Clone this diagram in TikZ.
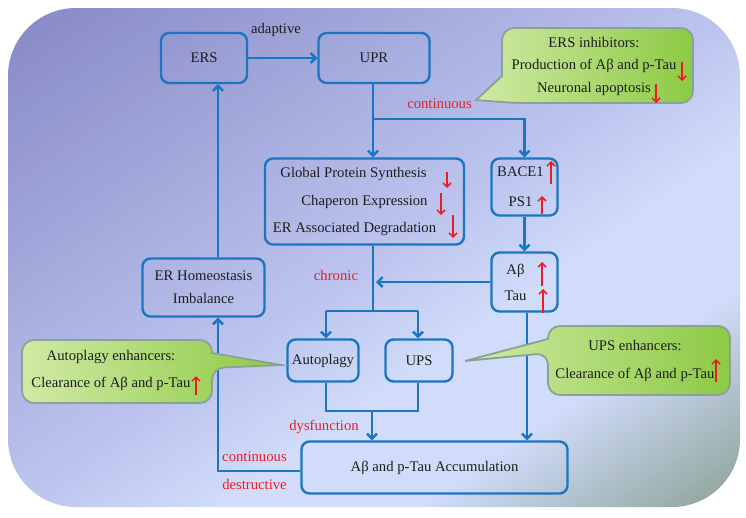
\documentclass[tikz,border=0pt]{standalone}
\usepackage{fontspec}
\setmainfont{Liberation Serif}
\usetikzlibrary{arrows.meta,calc}
\definecolor{boxblue}{RGB}{28,117,192}
\definecolor{redc}{RGB}{236,28,36}
\definecolor{cborder}{RGB}{138,162,148}
\definecolor{greenL}{RGB}{208,234,165}
\definecolor{greenR}{RGB}{140,202,68}
\definecolor{bgA}{RGB}{134,136,197}
\definecolor{bgB}{RGB}{188,196,238}
\definecolor{bgC}{RGB}{208,220,250}
\definecolor{bgD}{RGB}{140,160,148}
\definecolor{txt}{RGB}{30,30,30}
\pgfdeclarehorizontalshading{bgsh}{100bp}{color(0bp)=(bgA); color(25bp)=(bgA); color(50bp)=(bgB); color(57bp)=(bgC); color(64bp)=(bgC); color(75bp)=(bgD); color(100bp)=(bgD)}
\begin{document}
\begin{tikzpicture}[x=1pt,y=-1pt,
  box/.style={draw=boxblue, line width=2.4pt, rounded corners=8pt, inner sep=0pt, align=center, text=txt},
  conn/.style={draw=boxblue, line width=2.4pt},
  arr/.style={-{Straight Barb[length=5pt,width=10pt]}},
  redarr/.style={draw=redc, line width=1.5pt, -{Straight Barb[length=4pt,width=8pt]}},
  lbl/.style={text=redc, font=\fontsize{14.7}{17}\selectfont, inner sep=0pt},
  callout/.style={draw=cborder, line width=1.8pt, left color=greenL, right color=greenR},
  ctext/.style={text=txt, align=center, inner sep=0pt}
]
\useasboundingbox (0,0) rectangle (746,517);
\fill[white] (0,0) rectangle (746,517);
\begin{scope}
  \clip[rounded corners=68pt] (8,8) rectangle (740,507);
  \begin{scope}[transform canvas={rotate around={-55.6:(374,258)}}]
    \shade[shading=bgsh] (-38,-342) rectangle (786,858);
  \end{scope}
\end{scope}

% boxes
\node[box, minimum width=86pt, minimum height=50pt, font=\fontsize{14.7}{17}\selectfont] (ers) at (204,58) {ERS};
\node[box, minimum width=111pt, minimum height=50pt, font=\fontsize{14.7}{17}\selectfont] (upr) at (374,58) {UPR};
\node[box, minimum width=199pt, minimum height=86pt, font=\fontsize{14.7}{27.5}\selectfont] (glob) at (364.5,201.5)
  {Global Protein Synthesis\hspace*{22pt}\\Chaperon Expression\hspace*{22pt}\\ER Associated Degradation\hspace*{20pt}};
\node[box, minimum width=66pt, minimum height=57pt, font=\fontsize{14.7}{30}\selectfont] (bace) at (524.5,187)
  {BACE1\hspace*{8pt}\\PS1\hspace*{8pt}};
\node[box, minimum width=66pt, minimum height=59pt, font=\fontsize{14.7}{26}\selectfont] (ab) at (524.5,282)
  {Aβ\hspace*{18pt}\\Tau\hspace*{18pt}};
\node[box, minimum width=122pt, minimum height=58pt, font=\fontsize{14.7}{23}\selectfont] (erh) at (203.5,287.5)
  {ER Homeostasis\\Imbalance};
\node[box, minimum width=71pt, minimum height=42pt, font=\fontsize{14.7}{17}\selectfont] (auto) at (323,360.5) {Autoplagy};
\node[box, minimum width=67pt, minimum height=42pt, font=\fontsize{14.7}{17}\selectfont] (ups) at (419,360.5) {UPS};
\node[box, minimum width=266pt, minimum height=52pt, font=\fontsize{14.7}{17}\selectfont] (acc) at (434.5,467.5)
  {Aβ and p-Tau Accumulation};

% connectors
\coordinate (j1) at (373,119);
\draw[conn] (j1 |- upr.south) -- (j1);
\draw[conn,arr] (j1) -- (j1 |- glob.north);
\draw[conn,arr] (j1) -| (bace.north);
\draw[conn,arr] (ers) -- (upr);
\draw[conn,arr] (bace) -- (ab);
\coordinate (j2l) at (326,311);
\coordinate (j2) at (373,311);
\coordinate (j2r) at (418,311);
\coordinate (chr) at (376,282);
\draw[conn] (j2 |- glob.south) -- (j2);
\draw[conn,arr] (ab.west) -- (chr);
\draw[conn] (j2l) -- (j2r);
\draw[conn,arr] (j2l) -- (j2l |- auto.north);
\draw[conn,arr] (j2r) -- (j2r |- ups.north);
\coordinate (j3l) at (326,411);
\coordinate (j3) at (372,411);
\coordinate (j3r) at (418,411);
\draw[conn] (j3l |- auto.south) -- (j3l) -- (j3r) -- (j3r |- ups.south);
\draw[conn,arr] (j3) -- (j3 |- acc.north);
\coordinate (abx) at (527,300);
\draw[conn,arr] (abx |- ab.south) -- (abx |- acc.north);
\coordinate (j4) at (218,471);
\draw[conn,arr] (j4 -| acc.west) -- (j4) -- (j4 |- erh.south);
\draw[conn,arr] (j4 |- erh.north) -- (j4 |- ers.south);

% labels
\node[text=txt, font=\fontsize{14.7}{17}\selectfont, inner sep=0pt] (adap) at (276,30) {adaptive};
\node[lbl] (cont1) at (439.5,104) {continuous};
\node[lbl] (chron) at (336,275) {chronic};
\node[lbl] (dysf) at (324,427) {dysfunction};
\node[lbl] (cont2) at (254.5,457) {continuous};
\node[lbl] (destr) at (254.5,484) {destructive};

% red arrows in boxes
\draw[redarr] (447,172) -- (447,188);
\draw[redarr] (441,193) -- (441,215);
\draw[redarr] (453,215) -- (453,238);
\draw[redarr] (551,184) -- (551,161);
\draw[redarr] (542,214) -- (542,196);
\draw[redarr] (542,286) -- (542,262);
\draw[redarr] (543,313) -- (543,289);

% callouts
\path[callout] (502,76) [rounded corners=12pt] -- (502,28) -- (693,28) -- (693,103) -- (514,103) [sharp corners] -- (476,100) -- cycle;
\node[ctext, font=\fontsize{14.7}{22.5}\selectfont] (ersinh) at (594,66)
  {ERS inhibitors:\\Production of Aβ and p-Tau\\Neuronal apoptosis};
\draw[redarr] (682,62) -- (682,81);
\draw[redarr] (656,84) -- (656,103);

\path[callout] (212,353) [rounded corners=12pt] -- (212,340) -- (22,340) -- (22,403) -- (212,403) -- (212,368) [sharp corners] -- (281,365) -- cycle;
\node[ctext, font=\fontsize{14.7}{27}\selectfont] (autoenh) at (111,370.5)
  {Autoplagy enhancers:\\Clearance of Aβ and p-Tau};
\draw[redarr] (196,395) -- (196,376);

\path[callout] (548,339) [rounded corners=12pt] -- (548,326) -- (730,326) -- (730,395) -- (548,395) -- (548,353) [sharp corners] -- (465,361) -- cycle;
\node[ctext, font=\fontsize{14.7}{28}\selectfont] (upsenh) at (635,361)
  {UPS enhancers:\\Clearance of Aβ and p-Tau};
\draw[redarr] (716,382) -- (716,359);
\end{tikzpicture}
\end{document}
